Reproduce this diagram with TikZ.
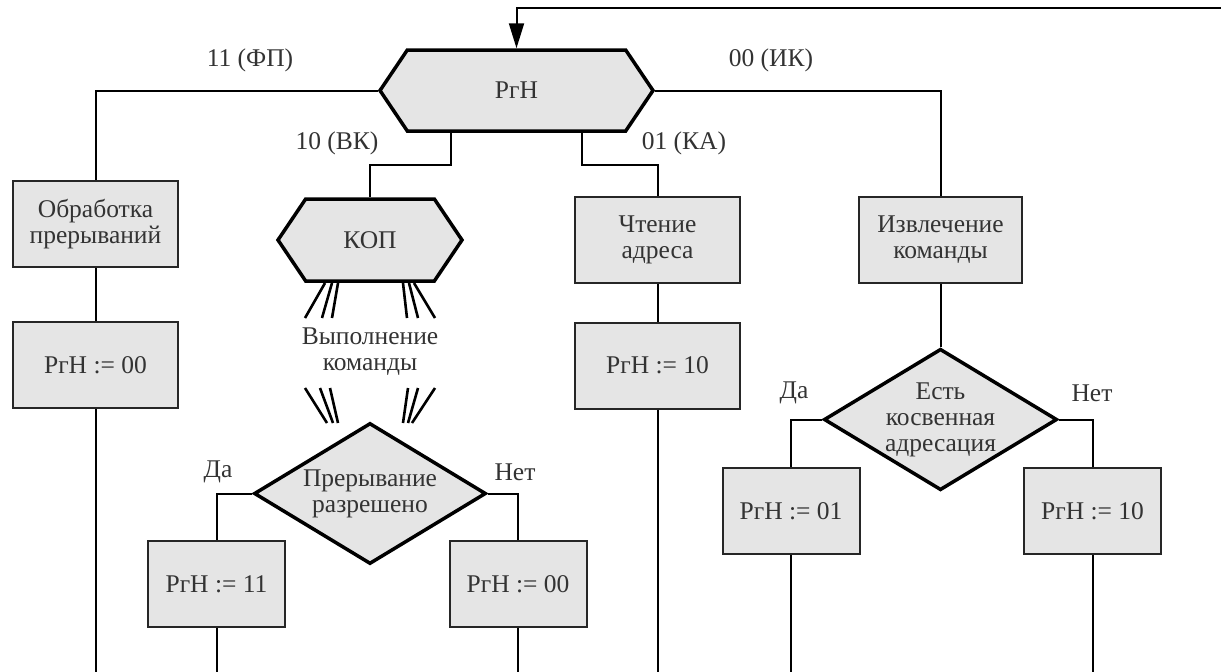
\documentclass[tikz,border=0pt]{standalone}
\usepackage{fontspec}
\setmainfont{Liberation Serif}
\usetikzlibrary{shapes.geometric,shapes.symbols,arrows.meta}

\definecolor{boxgray}{gray}{0.9}

\tikzset{
  every node/.style={font=\fontsize{25.5}{26}\selectfont, text=black!80},
  blk/.style={draw=black!85, line width=2pt, fill=boxgray, align=center,
    inner sep=0pt, minimum width=165pt, minimum height=86pt},
  sblk/.style={blk, minimum width=137pt},
  hexa/.style={signal, signal to=east and west, signal pointer angle=112,
    draw=black, line width=3.5pt, fill=boxgray, inner sep=0pt},
  cond/.style={diamond, draw=black, line width=3.5pt, fill=boxgray, aspect=1.65,
    inner sep=0pt, align=center},
  ln/.style={line width=2pt},
  hatch/.style={line width=2.6pt},
  lbl/.style={inner sep=0pt}
}

\begin{document}
\begin{tikzpicture}[x=1pt, y=-1pt]
  \useasboundingbox (0,0) rectangle (1221,672);
  \coordinate (bot) at (0,672);
  \coordinate (ret) at (1221,8);

  % state register
  \node[hexa, minimum width=273pt, minimum height=81pt] (prh) at (516.5,90.5) {РгН};

  % left branch
  \node[blk] (irq) at (95.5,224) {Обработка\\прерываний};
  \node[blk] (set00a) at (95.5,365) {РгН := 00};

  % execution branch
  \node[hexa, minimum width=184pt, minimum height=82pt] (kop) at (370,240) {КОП};
  \node (exec) at (370,352) [align=center] {Выполнение\\команды};
  \node[cond, minimum width=232pt, minimum height=141pt] (intok) at (370,493.5) {Прерывание\\разрешено};
  \node[sblk] (set11) at (216.5,584) {РгН := 11};
  \node[sblk] (set00b) at (518,584) {РгН := 00};

  % address branch
  \node[blk] (rda) at (657.5,240) {Чтение\\адреса};
  \node[blk] (set10a) at (657.5,365.5) {РгН := 10};

  % fetch branch
  \node[blk, minimum width=163pt] (ftch) at (940.5,240) {Извлечение\\команды};
  \node[cond, minimum width=233pt, minimum height=139pt] (indir) at (940.5,419.5) {Есть\\косвенная\\адресация};
  \node[sblk] (set01) at (791,511) {РгН := 01};
  \node[sblk] (set10b) at (1092.5,511) {РгН := 10};

  % labels
  \node[lbl] (l11) at (250,60) {11 (ФП)};
  \node[lbl] (l00) at (771,60) {00 (ИК)};
  \node[lbl] (l10) at (337,143) {10 (ВК)};
  \node[lbl] (l01) at (684,143) {01 (КА)};
  \node[lbl] (yes1) at (218,472) {Да};
  \node[lbl] (no1) at (515,472) {Нет};
  \node[lbl] (yes2) at (794,393) {Да};
  \node[lbl] (no2) at (1092,393) {Нет};

  % connections
  \draw[ln, -{Triangle[length=25pt, width=15pt]}] (ret) -| (prh.north);
  \draw[ln] (prh.west) -| (irq.north);
  \draw[ln] (prh.east) -| (ftch.north);
  \draw[ln] ([xshift=-66pt]prh.south) -- ++(0,32) -| (kop.north);
  \draw[ln] ([xshift=65pt]prh.south) -- ++(0,32) -| (rda.north);

  \draw[ln] (irq) -- (set00a);
  \draw[ln] (set00a) -- (set00a |- bot);

  \draw[ln] (intok.west) -| (set11.north);
  \draw[ln] (intok.east) -| (set00b.north);
  \draw[ln] (set11) -- (set11 |- bot);
  \draw[ln] (set00b) -- (set00b |- bot);

  \draw[ln] (rda) -- (set10a);
  \draw[ln] (set10a) -- (set10a |- bot);

  \draw[ln] (ftch) -- (indir);
  \draw[ln] (indir.west) -| (set01.north);
  \draw[ln] (indir.east) -| (set10b.north);
  \draw[ln] (set01) -- (set01 |- bot);
  \draw[ln] (set10b) -- (set10b |- bot);

  % abstract process marks
  \draw[hatch] (325,283) -- (305,318);
  \draw[hatch] (332,283) -- (322,318);
  \draw[hatch] (338,283) -- (332,318);
  \draw[hatch] (403,283) -- (407,318);
  \draw[hatch] (409,283) -- (418,318);
  \draw[hatch] (414,283) -- (435,318);
  \draw[hatch] (305,388) -- (327,423);
  \draw[hatch] (320,388) -- (333,423);
  \draw[hatch] (330,388) -- (338,423);
  \draw[hatch] (408,388) -- (403,423);
  \draw[hatch] (418,388) -- (408,423);
  \draw[hatch] (435,388) -- (412,423);
\end{tikzpicture}
\end{document}
